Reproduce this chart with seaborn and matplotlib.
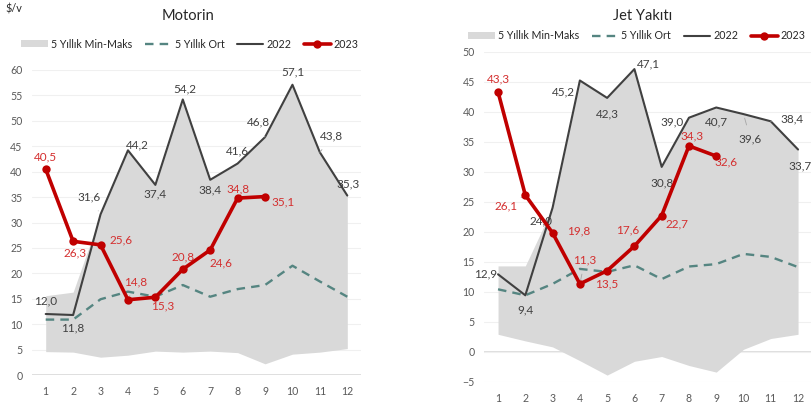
import matplotlib
matplotlib.use("Agg")
import matplotlib.pyplot as plt
from matplotlib.patches import Patch
from matplotlib.lines import Line2D
import seaborn as sns

months = list(range(1, 13))

# Motorin ($/v)
motorin_min = [4.6, 4.5, 3.5, 3.9, 4.7, 4.5, 4.7, 4.4, 2.2, 4.1, 4.5, 5.2]
motorin_max = [15.6, 16.3, 31.6, 44.2, 37.4, 54.2, 38.4, 41.6, 46.8, 57.1, 43.8, 35.3]
motorin_avg = [10.9, 10.9, 14.9, 16.4, 15.4, 17.7, 15.4, 16.9, 17.7, 21.5, 18.4, 15.4]
motorin_2022 = [12.0, 11.8, 31.6, 44.2, 37.4, 54.2, 38.4, 41.6, 46.8, 57.1, 43.8, 35.3]
motorin_2023 = [40.5, 26.3, 25.6, 14.8, 15.3, 20.8, 24.6, 34.8, 35.1]

# Jet Yakiti
jet_min = [2.9, 1.8, 0.8, -1.5, -3.9, -1.6, -0.8, -2.3, -3.4, 0.4, 2.2, 2.9]
jet_max = [14.3, 14.3, 24.0, 45.2, 42.3, 47.1, 30.8, 39.0, 40.7, 39.6, 38.4, 33.7]
jet_avg = [10.4, 9.4, 11.3, 13.8, 13.3, 14.4, 12.1, 14.2, 14.6, 16.3, 15.8, 14.1]
jet_2022 = [12.9, 9.4, 24.0, 45.2, 42.3, 47.1, 30.8, 39.0, 40.7, 39.6, 38.4, 33.7]
jet_2023 = [43.3, 26.1, 19.8, 11.3, 13.5, 17.6, 22.7, 34.3, 32.6]

# label offsets in pixels (dx, dy) and whether a leader line is drawn
motorin_off_22 = [(0, 13), (0, -13), (-11, 17), (9, 5), (0, -9), (2, 11),
                  (0, -10), (0, 13), (-7, 15), (0, 13), (12, 16), (1, 12)]
motorin_lead_22 = [0, 0, 1, 0, 0, 0, 0, 0, 1, 0, 1, 0]
motorin_off_23 = [(0, 12), (2, -12), (21, 5), (8, 18), (7, -9), (0, 12),
                  (11, -13), (0, 9), (18, -5)]
motorin_lead_23 = [0, 0, 1, 1, 0, 0, 0, 0, 0]

jet_off_22 = [(-12, 0), (0, -15), (-12, -13), (-16, -11), (0, -16), (14, 5),
              (0, -16), (-17, -4), (0, -14), (7, -25), (21, 2), (2, -16)]
jet_lead_22 = [0, 0, 0, 0, 0, 0, 0, 0, 0, 1, 1, 0]
jet_off_23 = [(0, 13), (-19, -11), (26, 2), (5, 24), (0, -13), (-7, 16),
              (15, -8), (3, 10), (10, -6)]
jet_lead_23 = [0, 1, 1, 1, 0, 1, 0, 0, 0]

BAND = "#d9d9d9"
AVG = "#558581"
C22 = "#404040"
C23 = "#c00000"
LAB23 = "#d42f2f"
TICK = "#595959"

sns.set_style("white")
plt.rcParams["font.family"] = ["Lato", "DejaVu Sans"]

fig = plt.figure(figsize=(8.11, 4.04), dpi=100)
ax1 = fig.add_axes([32 / 811, 1 - 375 / 404, 329 / 811, 305 / 404])
ax2 = fig.add_axes([484.4 / 811, 1 - 381.7 / 404, 327.3 / 811, 330 / 404])


def fmt(v):
    return f"{v:.1f}".replace(".", ",")


def label(ax, xs, ys, offs, leads, color):
    for x, y, (dx, dy), ld in zip(xs, ys, offs, leads):
        kw = {}
        if ld:
            kw["arrowprops"] = dict(arrowstyle="-", color="#a6a6a6", lw=0.6,
                                    shrinkA=4, shrinkB=3)
        ax.annotate(fmt(y), (x, y), xytext=(dx, dy), textcoords="offset pixels",
                    ha="center", va="center", fontsize=8.5, color=color, **kw)


def draw(ax, vmin, vmax, avg, y22, y23, offs22, lead22, offs23, lead23):
    ax.fill_between(months, vmin, vmax, color=BAND, lw=0, zorder=1)
    sns.lineplot(x=months, y=avg, ax=ax, color=AVG, lw=1.7,
                 linestyle=(0, (3.6, 2.6)), zorder=2)
    sns.lineplot(x=months, y=y22, ax=ax, color=C22, lw=1.5, zorder=3)
    sns.lineplot(x=months[:len(y23)], y=y23, ax=ax, color=C23, lw=2.6,
                 marker="o", markersize=6, markeredgewidth=0, zorder=4)
    label(ax, months, y22, offs22, lead22, C22)
    label(ax, months[:len(y23)], y23, offs23, lead23, LAB23)
    ax.set_xlim(0.5, 12.5)
    ax.set_xticks(months)
    for s in ax.spines.values():
        s.set_visible(False)
    ax.grid(axis="y", color="#f0f0f0", lw=0.8)
    ax.set_axisbelow(True)
    ax.tick_params(axis="both", length=0, labelsize=7.6, labelcolor=TICK)
    ax.tick_params(axis="y", pad=7)
    ax.tick_params(axis="x", pad=8)
    ax.set_xlabel("")
    ax.set_ylabel("")


draw(ax1, motorin_min, motorin_max, motorin_avg, motorin_2022, motorin_2023,
     motorin_off_22, motorin_lead_22, motorin_off_23, motorin_lead_23)
ax1.set_ylim(0, 60)
ax1.set_yticks(range(0, 61, 5))
ax1.axhline(0, color=BAND, lw=1.2, zorder=0.5)

draw(ax2, jet_min, jet_max, jet_avg, jet_2022, jet_2023,
     jet_off_22, jet_lead_22, jet_off_23, jet_lead_23)
ax2.set_ylim(-5, 50)
ax2.set_yticks(range(-5, 51, 5))
ax2.axhline(0, color=BAND, lw=1.2, zorder=0.5)

handles = [
    Patch(facecolor=BAND, edgecolor="none"),
    Line2D([], [], color=AVG, lw=1.7, linestyle=(0, (3.6, 2.6))),
    Line2D([], [], color=C22, lw=1.5),
    Line2D([], [], color=C23, lw=2.6, marker="o", markersize=6, markeredgewidth=0),
]
names = ["5 Yıllık Min-Maks", "5 Yıllık Ort", "2022", "2023"]
for ax, bx, by in ((ax1, -0.033, 1.085), (ax2, -0.05, 1.048)):
    ax.legend(handles, names, loc="center left", bbox_to_anchor=(bx, by), ncol=4,
              frameon=False, fontsize=7.7, handlelength=2.5, handleheight=0.6,
              handletextpad=0.3, columnspacing=1.15, borderpad=0,
              borderaxespad=0, labelcolor="#262626")

fig.text(188 / 811, 1 - 16 / 404, "Motorin", ha="center", va="center",
         fontsize=10.5, color="#262626")
fig.text(643 / 811, 1 - 16 / 404, "Jet Yakıtı", ha="center", va="center",
         fontsize=10.5, color="#262626")
fig.text(5 / 811, 1 - 9 / 404, "$/v", ha="left", va="center", fontsize=7.8,
         color="#262626")

fig.savefig("out.png", dpi=100)
